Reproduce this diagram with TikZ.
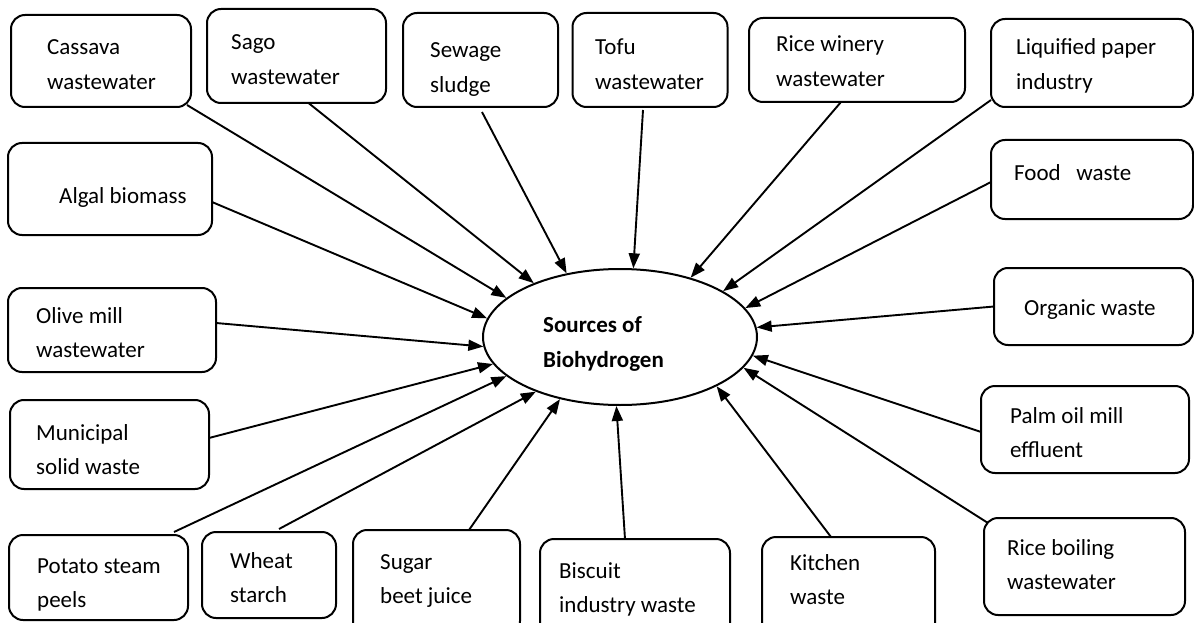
\documentclass[tikz,border=0pt]{standalone}
\usepackage{fontspec}
\setmainfont{Carlito}
\usetikzlibrary{arrows.meta,shapes.geometric}
\begin{document}
\begin{tikzpicture}[x=1pt,y=-1pt,
  box/.style={draw, line width=2pt, rounded corners=14pt, inner sep=0pt, outer sep=0pt},
  lbl/.style={anchor=base west, align=left, inner sep=0pt, font=\fontsize{23}{34.5}\selectfont},
  arr/.style={line width=1.9pt, -{Triangle[length=15pt,width=11pt]}}]
\useasboundingbox (0,0) rectangle (1194,623);
\clip (0,0) rectangle (1194,623);
% centre ellipse
\node[draw, ellipse, line width=2pt, minimum width=274pt, minimum height=136pt, inner sep=0pt] (E) at (620,337) {};
\node[lbl, font=\fontsize{23}{35}\selectfont\bfseries] (Et) at (543,367) {Sources of\\Biohydrogen};
% boxes
\node[box, minimum width=180pt, minimum height=92pt] (cas) at (101,61) {};
\node[box, minimum width=179pt, minimum height=94pt] (sago) at (296.5,56) {};
\node[box, minimum width=155pt, minimum height=94pt] (sew) at (480.5,60) {};
\node[box, minimum width=155pt, minimum height=94pt] (tofu) at (650,60) {};
\node[box, minimum width=216pt, minimum height=84pt] (rw) at (857,60) {};
\node[box, minimum width=202pt, minimum height=88pt] (liq) at (1092,63) {};
\node[box, minimum width=202pt, minimum height=79pt] (food) at (1092,179.5) {};
\node[box, minimum width=204pt, minimum height=92pt] (alg) at (110,189) {};
\node[box, minimum width=208pt, minimum height=84pt] (oli) at (112,330) {};
\node[box, minimum width=199pt, minimum height=89pt] (mun) at (109.5,444.5) {};
\node[box, minimum width=199pt, minimum height=77pt] (org) at (1093.5,306.5) {};
\node[box, minimum width=208pt, minimum height=87pt] (palm) at (1085,429.5) {};
\node[box, minimum width=201pt, minimum height=97pt] (rb) at (1084.5,566.5) {};
\node[box, minimum width=179pt, minimum height=85pt] (pot) at (98.5,577.5) {};
\node[box, minimum width=134pt, minimum height=86pt] (wh) at (269,575) {};
\node[box, minimum width=167pt, minimum height=105pt] (sug) at (436.5,582.5) {};
\node[box, minimum width=190pt, minimum height=101pt] (bis) at (635,589.5) {};
\node[box, minimum width=173pt, minimum height=103pt] (kit) at (848.5,588.5) {};
% labels (base anchor = baseline of last line)
\node[lbl] (cast) at (47,89.5) {Cassava\\wastewater};
\node[lbl] (sagot) at (231,84.5) {Sago\\wastewater};
\node[lbl] (sewt) at (430,92.5) {Sewage\\sludge};
\node[lbl] (tofut) at (595,89.5) {Tofu\\wastewater};
\node[lbl] (rwt) at (776,86.5) {Rice winery\\wastewater};
\node[lbl] (liqt) at (1016,89.5) {Liquified paper\\industry};
\node[lbl] (foodt) at (1014,180) {Food\ \ \ waste};
\node[lbl] (algt) at (59,203) {Algal biomass};
\node[lbl] (orgt) at (1024,315) {Organic waste};
\node[lbl] (olit) at (36,357.5) {Olive mill\\wastewater};
\node[lbl] (munt) at (36,474.5) {Municipal\\solid waste};
\node[lbl] (pott) at (37,607.5) {Potato steam\\peels};
\node[lbl] (wht) at (230,602.5) {Wheat\\starch};
\node[lbl] (sugt) at (380,603.5) {Sugar\\beet juice};
\node[lbl] (bist) at (559,612.5) {Biscuit\\industry waste};
\node[lbl] (kitt) at (790,604.5) {Kitchen\\waste};
\node[lbl] (palmt) at (1010,457.5) {Palm oil mill\\effluent};
\node[lbl] (rbt) at (1007,589.5) {Rice boiling\\wastewater};
% connectors
\draw[arr] ([xshift=-4pt,yshift=2pt]cas.south east) -- (E.161);
\draw[arr] ([xshift=12pt]sago.south) -- (E.148);
\draw[arr] ([xshift=1.5pt,yshift=-5pt]sew.south) -- (E.130);
\draw[arr] ([xshift=-7pt,yshift=-3pt]tofu.south) -- (E.79);
\draw[arr] ([xshift=-16pt]rw.south) -- (E.40);
\draw[arr] ([yshift=-37pt]liq.west) -- (E.24.5);
\draw[arr] ([yshift=-2.5pt]food.west) -- (E.13);
\draw[arr] (org.west) -- (E.4);
\draw[arr] ([yshift=-2.5pt]palm.west) -- (E.-8.5);
\draw[arr] ([xshift=4pt,yshift=-5pt]rb.north west) -- (E.-14.5);
\draw[arr] ([xshift=-17.5pt]kit.north) -- (E.-27);
\draw[arr] ([xshift=-10pt]bis.north) -- (E.-93.5);
\draw[arr] ([xshift=32.5pt]sug.north) -- (E.-134.5);
\draw[arr] ([xshift=10pt,yshift=3pt]wh.north) -- (E.-147);
\draw[arr] ([xshift=-14pt,yshift=3pt]pot.north east) -- (E.-161);
\draw[arr] ([yshift=6.5pt]mun.east) -- (E.-168.5);
\draw[arr] ([yshift=7pt]oli.east) -- (E.-176.5);
\draw[arr] ([yshift=-13pt]alg.east) -- (E.172);
\end{tikzpicture}
\end{document}
